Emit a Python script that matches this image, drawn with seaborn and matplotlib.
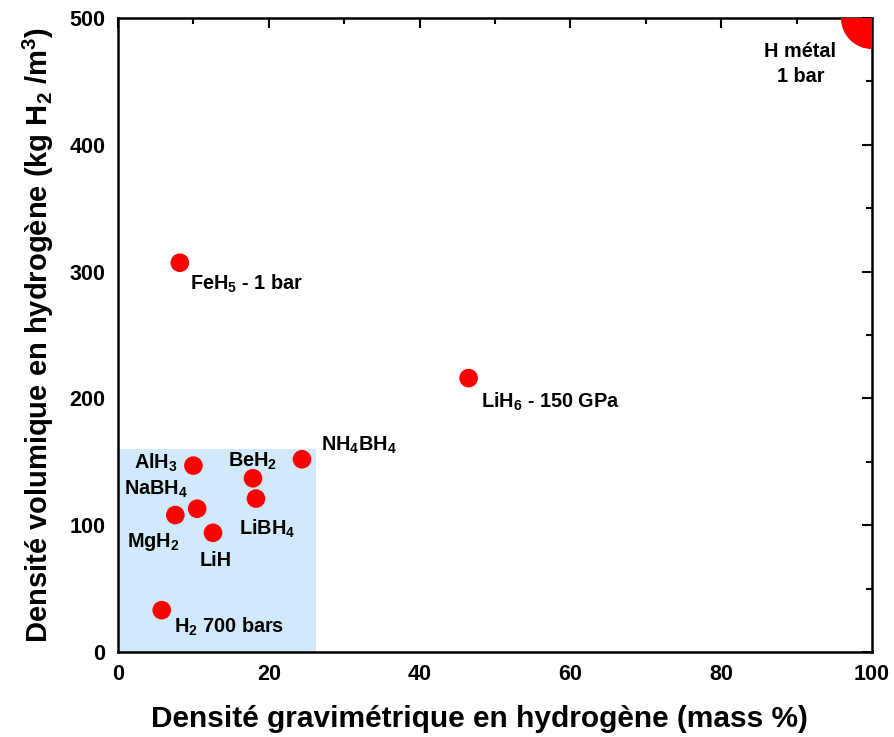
import matplotlib
matplotlib.use("Agg")
import matplotlib.pyplot as plt
from matplotlib.patches import Rectangle
from matplotlib.ticker import MultipleLocator
import seaborn as sns
import pandas as pd

# data
materials = ["H2 700 bars", "MgH2", "NaBH4", "AlH3", "LiH", "BeH2", "LiBH4",
             "NH4BH4", "FeH5", "LiH6", "H metal"]
grav = [5.8, 7.6, 10.5, 10.0, 12.6, 17.9, 18.3, 24.4, 8.2, 46.5, 100.0]
vol = [33, 108, 113, 147, 94, 137, 121, 152, 307, 216, 500]
kind = ["std"] * 10 + ["big"]

labels = [r"H$_\mathbf{2}$ 700 bars", r"MgH$_\mathbf{2}$", r"NaBH$_\mathbf{4}$",
          r"AlH$_\mathbf{3}$", "LiH", r"BeH$_\mathbf{2}$", r"LiBH$_\mathbf{4}$",
          r"NH$_\mathbf{4}$BH$_\mathbf{4}$", r"FeH$_\mathbf{5}$ - 1 bar",
          r"LiH$_\mathbf{6}$ - 150 GPa", "H métal\n1 bar"]
label_x = [7.4, 4.6, 5.1, 7.9, 13.0, 17.8, 19.8, 26.9, 9.6, 48.2, 90.5]
label_y = [20, 87, 128, 149, 72, 150, 97, 163, 290, 197, 464]
label_ha = ["left", "center", "center", "right", "center", "center", "center",
            "left", "left", "left", "center"]

box_x, box_y = 26.3, 160

df = pd.DataFrame({"material": materials, "grav": grav, "vol": vol, "kind": kind})

sns.set_theme(style="white")
plt.rcParams["font.family"] = ["Liberation Sans", "DejaVu Sans"]
plt.rcParams["text.color"] = "black"
plt.rcParams["mathtext.fontset"] = "custom"
plt.rcParams["mathtext.rm"] = "Liberation Sans"
plt.rcParams["mathtext.bf"] = "Liberation Sans:bold"

fig = plt.figure(figsize=(8.95, 7.37), dpi=100)
ax = fig.add_axes([118 / 895, 1 - 652 / 737, 754 / 895, 634 / 737])

ax.add_patch(Rectangle((0, 0), box_x, box_y, facecolor="#d0eafb",
                       edgecolor="none", zorder=0))

sns.scatterplot(data=df, x="grav", y="vol", size="kind",
                sizes={"std": 180, "big": 2000}, color="#ff0000",
                edgecolor="none", legend=False, ax=ax, zorder=3)

for t, lx, ly, ha in zip(labels, label_x, label_y, label_ha):
    ax.text(lx, ly, t, ha=ha, va="center", fontsize=14.3, fontweight="bold",
            color="black", zorder=4, linespacing=1.4)

ax.set_xlim(0, 100)
ax.set_ylim(0, 500)
ax.xaxis.set_major_locator(MultipleLocator(20))
ax.xaxis.set_minor_locator(MultipleLocator(10))
ax.yaxis.set_major_locator(MultipleLocator(100))
ax.yaxis.set_minor_locator(MultipleLocator(50))
ax.tick_params(which="both", direction="in", top=True, right=True,
               color="black", width=1.5, labelcolor="black")
ax.tick_params(which="major", length=7, pad=9)
ax.tick_params(which="minor", length=4)
for sp in ax.spines.values():
    sp.set_color("black")
    sp.set_linewidth(1.8)

for lab in ax.get_xticklabels() + ax.get_yticklabels():
    lab.set_fontweight("bold")
    lab.set_fontsize(15.5)

ax.set_xlabel("Densité gravimétrique en hydrogène (mass %)", fontsize=21.5,
              fontweight="bold", color="black")
ax.xaxis.set_label_coords(0.48, -0.083)
ax.set_ylabel(r"Densité volumique en hydrogène (kg H$_\mathbf{2}$ /m$^\mathbf{3}$)",
              fontsize=21, fontweight="bold", color="black", labelpad=10)

fig.savefig("out.png", dpi=100)
plt.close("all")
